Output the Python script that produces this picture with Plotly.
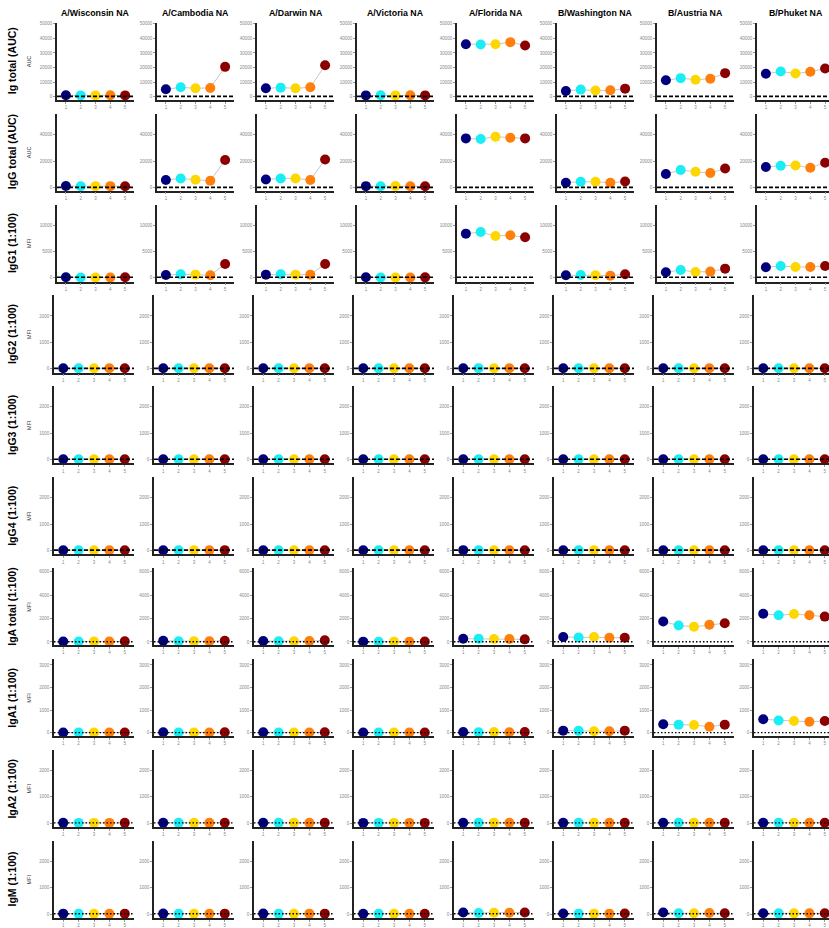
import plotly.graph_objects as go

# Antigens (columns) and readouts (rows)
antigens = ["A/Wisconsin NA", "A/Cambodia NA", "A/Darwin NA", "A/Victoria NA",
            "A/Florida NA", "B/Washington NA", "B/Austria NA", "B/Phuket NA"]
readouts = ["Ig total (AUC)", "IgG total (AUC)", "IgG1 (1:100)", "IgG2 (1:100)",
            "IgG3 (1:100)", "IgG4 (1:100)", "IgA total (1:100)", "IgA1 (1:100)",
            "IgA2 (1:100)", "IgM (1:100)"]
units = ["AUC", "AUC", "MFI", "MFI", "MFI", "MFI", "MFI", "MFI", "MFI", "MFI"]
timepoints = [1, 2, 3, 4, 5]
point_colors = ["#00007F", "#19EEF5", "#FFD700", "#FF7F0A", "#8B0000"]

# Values per antigen (rows of 5 timepoints)
ig_total = [
    [1100, 1000, 1000, 1050, 1000],
    [5200, 6500, 5850, 6100, 20500],
    [5850, 6300, 5850, 6500, 21600],
    [1000, 1100, 1000, 1050, 1000],
    [36000, 35800, 36000, 37400, 35100],
    [4050, 4950, 4300, 4500, 5600],
    [11300, 12800, 11700, 12400, 16200],
    [15800, 17300, 16000, 17100, 19400],
]
igg_total = [
    [1300, 1100, 1200, 1200, 1100],
    [5750, 7000, 6000, 5250, 20750],
    [6250, 7000, 7000, 5750, 21250],
    [1200, 1100, 1300, 1100, 1100],
    [37000, 36500, 38250, 37500, 37000],
    [3750, 4500, 4500, 3750, 4750],
    [10250, 13250, 12000, 11000, 14500],
    [15500, 16500, 16750, 15000, 18750],
]
igg1 = [
    [80, 30, 40, 40, 60],
    [500, 640, 570, 450, 2600],
    [570, 640, 570, 570, 2610],
    [60, 30, 40, 40, 50],
    [8400, 8700, 7960, 8090, 7700],
    [450, 500, 450, 380, 640],
    [1020, 1460, 1080, 1150, 1720],
    [1970, 2230, 2040, 2040, 2230],
]
igg2 = [
    [12, 10, 10, 11, 12],
    [14, 11, 12, 12, 15],
    [13, 11, 12, 12, 14],
    [10, 9, 10, 10, 11],
    [15, 18, 14, 13, 12],
    [12, 10, 11, 10, 12],
    [13, 12, 12, 11, 13],
    [14, 13, 12, 12, 14],
]
igg3 = [
    [10, 9, 10, 10, 11],
    [12, 10, 11, 11, 13],
    [12, 10, 11, 11, 12],
    [9, 9, 9, 9, 10],
    [13, 12, 12, 11, 12],
    [10, 9, 10, 9, 11],
    [12, 11, 11, 10, 12],
    [12, 11, 11, 11, 12],
]
igg4 = [
    [8, 8, 8, 8, 9],
    [9, 8, 8, 8, 10],
    [9, 8, 8, 8, 9],
    [8, 7, 8, 8, 8],
    [10, 9, 9, 9, 9],
    [8, 8, 8, 8, 9],
    [9, 9, 9, 8, 9],
    [9, 9, 9, 9, 9],
]
iga_total = [
    [50, 40, 45, 50, 55],
    [100, 60, 70, 70, 110],
    [85, 70, 70, 75, 140],
    [30, 25, 30, 30, 35],
    [280, 280, 250, 250, 225],
    [420, 390, 420, 370, 370],
    [1750, 1410, 1300, 1470, 1600],
    [2420, 2280, 2390, 2280, 2170],
]
iga1 = [
    [20, 15, 15, 15, 20],
    [25, 20, 20, 20, 25],
    [25, 20, 20, 20, 25],
    [15, 15, 15, 15, 15],
    [40, 30, 40, 30, 40],
    [100, 90, 70, 70, 100],
    [380, 365, 350, 275, 365],
    [600, 550, 525, 495, 525],
]
iga2 = [
    [10, 9, 9, 9, 10],
    [11, 10, 10, 10, 11],
    [11, 10, 10, 10, 11],
    [9, 9, 9, 9, 9],
    [12, 11, 11, 11, 11],
    [10, 10, 10, 10, 10],
    [12, 11, 11, 11, 12],
    [12, 12, 11, 11, 12],
]
igm = [
    [15, 12, 12, 12, 14],
    [16, 13, 13, 13, 15],
    [16, 13, 13, 14, 15],
    [12, 11, 11, 11, 12],
    [60, 40, 50, 50, 60],
    [20, 15, 15, 15, 18],
    [60, 30, 30, 40, 30],
    [30, 25, 25, 25, 28],
]

series = [ig_total, igg_total, igg1, igg2, igg3, igg4, iga_total, iga1, iga2, igm]

# Y axis ranges and ticks per readout
y_ranges = [[-2030, 50680], [-2220, 55560], [-765, 13960], [-150, 2780], [-150, 2780],
            [-150, 2780], [-280, 6310], [-145, 3260], [-150, 2760], [-150, 2760]]
y_ticks = [[0, 10000, 20000, 30000, 40000, 50000], [0, 20000, 40000], [0, 5000, 10000],
           [0, 1000, 2000], [0, 1000, 2000], [0, 1000, 2000], [0, 2000, 4000, 6000],
           [0, 1000, 2000, 3000], [0, 1000, 2000], [0, 1000, 2000]]
cutoffs = [300, 300, 60, 10, 10, 10, 20, 15, 10, 10]
cutoff_dash = ["4px,2px"] * 6 + ["1.5px,2px"] * 4
cutoff_width = [1.6] * 6 + [1.3] * 4

W, H = 829, 928
FONT = "Liberation Sans, Arial, sans-serif"
X_LO, X_HI = 0.4, 5.6

fig = go.Figure()
layout = dict(width=W, height=H, margin=dict(l=0, r=0, t=0, b=0),
              paper_bgcolor="white", plot_bgcolor="white", showlegend=False,
              font=dict(family=FONT))
shapes = []
annotations = []

for r in range(len(readouts)):
    top = 22 + 92 * r
    bottom = top + 78
    left0 = 57 if r < 3 else 54
    for c in range(len(antigens)):
        n = r * len(antigens) + c + 1
        sfx = "" if n == 1 else str(n)
        x0 = left0 + 100 * c
        x1_full = 134 + 100 * c
        ppu = (x1_full - x0) / (X_HI - X_LO)
        x1 = min(x1_full, W)
        x_hi = X_LO + (x1 - x0) / ppu
        fig.add_trace(go.Scatter(
            x=timepoints, y=series[r][c], mode="lines+markers",
            line=dict(color="#c8c8c8", width=1),
            marker=dict(color=point_colors, size=10, line=dict(width=0)),
            xaxis="x" + sfx, yaxis="y" + sfx, hoverinfo="skip", cliponaxis=False))
        layout["xaxis" + sfx] = dict(
            domain=[x0 / W, x1 / W], anchor="y" + sfx, range=[X_LO, x_hi],
            tickvals=timepoints, ticktext=[str(t) for t in timepoints],
            showline=True, linecolor="#222", linewidth=1.5, showgrid=False,
            zeroline=False, ticks="outside", ticklen=2, tickwidth=0.6, tickcolor="#999",
            tickfont=dict(size=4.5, color="#888", family=FONT), fixedrange=True)
        layout["yaxis" + sfx] = dict(
            domain=[1 - bottom / H, 1 - top / H], anchor="x" + sfx, range=y_ranges[r],
            tickvals=y_ticks[r], ticktext=[str(v) for v in y_ticks[r]],
            showline=True, linecolor="#222", linewidth=1.5, showgrid=False,
            zeroline=False, ticks="outside", ticklen=2, tickwidth=0.6, tickcolor="#999",
            tickfont=dict(size=4.5, color="#888", family=FONT), fixedrange=True)
        shapes.append(dict(type="line", xref="x" + sfx + " domain", yref="y" + sfx,
                           x0=0, x1=1, y0=cutoffs[r], y1=cutoffs[r],
                           line=dict(color="black", width=cutoff_width[r], dash=cutoff_dash[r]),
                           layer="above"))
        if r == 0:
            annotations.append(dict(text="<b>" + antigens[c] + "</b>", xref="paper", yref="paper",
                                    x=(x0 + x1_full) / 2 / W, y=1 - 12 / H, showarrow=False,
                                    xanchor="center", yanchor="middle",
                                    font=dict(size=8.8, color="black", family=FONT)))
    mid = 1 - (top + bottom) / 2 / H
    annotations.append(dict(text="<b>" + readouts[r] + "</b>", xref="paper", yref="paper",
                            x=12 / W, y=mid, showarrow=False, textangle=-90,
                            xanchor="center", yanchor="middle",
                            font=dict(size=10.5, color="black", family=FONT)))
    annotations.append(dict(text=units[r], xref="paper", yref="paper",
                            x=29 / W, y=mid, showarrow=False, textangle=-90,
                            xanchor="center", yanchor="middle",
                            font=dict(size=5.5, color="#333", family=FONT)))

layout["shapes"] = shapes
layout["annotations"] = annotations
fig.update_layout(**layout)
fig.write_html("out.html")
